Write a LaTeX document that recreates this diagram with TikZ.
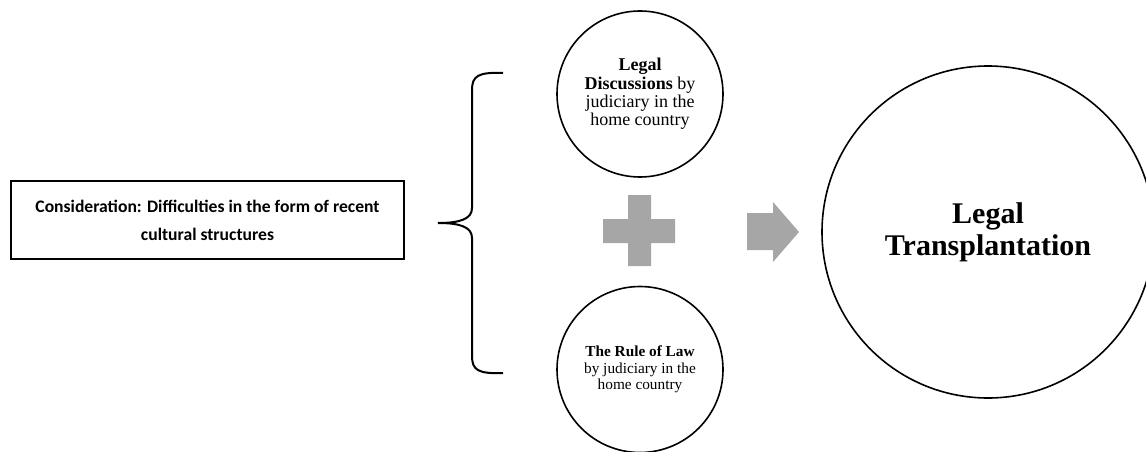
\documentclass[tikz,border=0pt]{standalone}
\usepackage{fontspec}
\setmainfont{Liberation Serif}
\newfontfamily\boxfont{Carlito}
\definecolor{signgray}{HTML}{A6A6A6}

\begin{document}
\begin{tikzpicture}
    [x=1pt,y=-1pt,every node/.style={align=center,inner sep=0pt},
     idea/.style={circle,draw,line width=1.6pt,minimum size=166pt},
     result/.style={circle,draw,line width=1.6pt,minimum size=332pt,
       font=\fontsize{30}{32}\selectfont\bfseries},
     topic/.style={rectangle,draw,line width=2.2pt,minimum width=393pt,
       minimum height=78pt,font=\boxfont\fontsize{17.6}{28}\selectfont\bfseries}]
    \useasboundingbox (0,0) rectangle (1146,452);

    \node[topic] (cons) at (207.5,220) {Consideration: Difficulties in the form of recent\\cultural structures};

    \node[idea,font=\fontsize{18}{18.3}\selectfont] (disc) at (640,94)
      {\textbf{Legal}\\\textbf{Discussions} by\\judiciary in the\\home country};
    \node[idea,font=\fontsize{15.3}{16.5}\selectfont] (rule) at (640,369.5)
      {\textbf{The Rule of Law}\\by judiciary in the\\home country};

    \node[result] (trans) at (988,232) {Legal\\Transplantation};

    % brace
    \draw[line width=2pt] (503,73) .. controls (478,72) and (472,76) .. (472,90)
      -- (472,208) .. controls (472,219) and (460,223) .. (438,223)
      .. controls (460,223) and (472,227) .. (472,238)
      -- (472,356) .. controls (472,370) and (478,374) .. (503,373);

    % plus and arrow
    \fill[signgray] (628,195) -- (651,195) -- (651,219) -- (675,219) -- (675,243)
      -- (651,243) -- (651,266) -- (628,266) -- (628,243) -- (603,243)
      -- (603,219) -- (628,219) -- cycle;
    \fill[signgray] (747,213) -- (773,213) -- (773,202) -- (799,232) -- (773,262)
      -- (773,250) -- (747,250) -- cycle;
  \end{tikzpicture}
\end{document}
